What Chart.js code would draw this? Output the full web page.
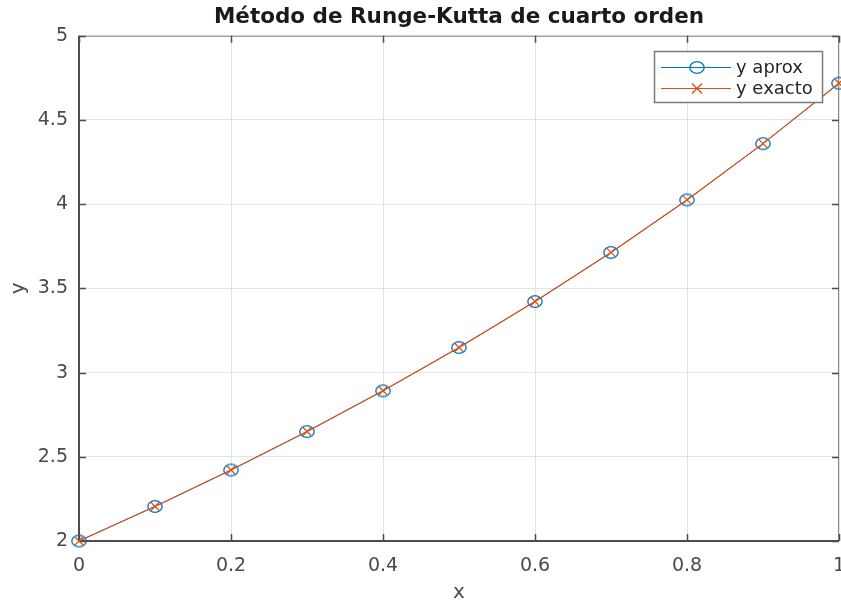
<!DOCTYPE html>
<html>
<head>
<meta charset="utf-8">
<script src="https://cdn.jsdelivr.net/npm/chart.js@4.4.1/dist/chart.umd.min.js"></script>
<style>
  html, body { margin: 0; padding: 0; background: #fff; }
  #wrap { width: 841px; height: 603px; }
</style>
</head>
<body>
<div id="wrap"><canvas id="rk4"></canvas></div>
<script>
// x nodes, h = 0.1
const xs = [0, 0.1, 0.2, 0.3, 0.4, 0.5, 0.6, 0.7, 0.8, 0.9, 1.0];
// Runge-Kutta 4 approximation
const yAprox = [2.0000, 2.2052, 2.4214, 2.6498, 2.8918, 3.1487, 3.4221, 3.7137, 4.0255, 4.3596, 4.7183];
// exact solution at the same nodes
const yExacto = [2.0000, 2.2052, 2.4214, 2.6499, 2.8918, 3.1487, 3.4221, 3.7138, 4.0255, 4.3596, 4.7183];

const xTicks = [0, 0.2, 0.4, 0.6, 0.8, 1];
const yTicks = [2, 2.5, 3, 3.5, 4, 4.5, 5];

const BLUE = '#0072BD';
const ORANGE = '#D95319';
const TEXT = '#4a4a4a';
const FONT = "'DejaVu Sans', 'Liberation Sans', Arial, sans-serif";

// matlab style 'o' markers come out slightly oval here
function ovalMarker(color) {
  const c = document.createElement('canvas');
  c.width = 18; c.height = 15;
  const g = c.getContext('2d');
  g.strokeStyle = color;
  g.lineWidth = 1.3;
  g.beginPath();
  g.ellipse(9, 7.5, 7.2, 5.8, 0, 0, Math.PI * 2);
  g.stroke();
  return c;
}
const circleMark = ovalMarker(BLUE);

function pts(ys) {
  return xs.map((x, i) => ({ x: x, y: ys[i] }));
}

// axes box with inward ticks, drawn before the lines
const axesBox = {
  id: 'axesBox',
  beforeDatasetsDraw(chart) {
    const { ctx, chartArea: a, scales } = chart;
    ctx.save();
    ctx.lineWidth = 1;
    ctx.strokeStyle = '#8c8c8c';
    ctx.beginPath();
    ctx.moveTo(a.left, a.top + 0.5); ctx.lineTo(a.right, a.top + 0.5);
    ctx.moveTo(a.right - 0.5, a.top); ctx.lineTo(a.right - 0.5, a.bottom);
    ctx.stroke();
    ctx.lineWidth = 2;
    ctx.strokeStyle = '#4d4d4d';
    ctx.beginPath();
    ctx.moveTo(a.left, a.top); ctx.lineTo(a.left, a.bottom);
    ctx.lineTo(a.right, a.bottom);
    ctx.stroke();
    ctx.lineWidth = 1.5;
    const len = 7;
    ctx.beginPath();
    xTicks.forEach(v => {
      const px = Math.round(scales.x.getPixelForValue(v)) + 0.5;
      ctx.moveTo(px, a.bottom); ctx.lineTo(px, a.bottom - len);
      ctx.moveTo(px, a.top); ctx.lineTo(px, a.top + len);
    });
    yTicks.forEach(v => {
      const py = Math.round(scales.y.getPixelForValue(v)) + 0.5;
      ctx.moveTo(a.left, py); ctx.lineTo(a.left + len, py);
      ctx.moveTo(a.right, py); ctx.lineTo(a.right - len, py);
    });
    ctx.stroke();
    ctx.restore();
  }
};

// boxed legend in the upper right corner of the axes
const boxLegend = {
  id: 'boxLegend',
  afterDraw(chart) {
    const { ctx } = chart;
    const x0 = 654, y0 = 51, w = 168, h = 51;
    ctx.save();
    ctx.fillStyle = '#fff';
    ctx.fillRect(x0, y0, w, h);
    ctx.strokeStyle = '#7a7a7a';
    ctx.lineWidth = 1.5;
    ctx.strokeRect(x0 + 0.5, y0 + 0.5, w, h);
    ctx.font = '18px ' + FONT;
    ctx.textBaseline = 'middle';
    const items = chart.data.datasets.slice().sort((p, q) => q.order - p.order);
    items.forEach((ds, i) => {
      const cy = y0 + 16 + i * 21;
      ctx.strokeStyle = ds.borderColor;
      ctx.lineWidth = 1;
      ctx.beginPath();
      ctx.moveTo(x0 + 7, cy + 0.5); ctx.lineTo(x0 + 77, cy + 0.5);
      ctx.stroke();
      const mx = x0 + 43;
      if (ds.pointStyle === 'crossRot') {
        ctx.lineWidth = 1.3;
        ctx.beginPath();
        ctx.moveTo(mx - 5, cy - 4.5); ctx.lineTo(mx + 5, cy + 5.5);
        ctx.moveTo(mx - 5, cy + 5.5); ctx.lineTo(mx + 5, cy - 4.5);
        ctx.stroke();
      } else {
        ctx.drawImage(circleMark, mx - 9, cy - 7);
      }
      ctx.fillStyle = '#262626';
      ctx.fillText(ds.label, x0 + 82, cy + 1);
    });
    ctx.restore();
  }
};

new Chart(document.getElementById('rk4'), {
  type: 'line',
  data: {
    datasets: [
      {
        label: 'y aprox',
        data: pts(yAprox),
        order: 2,
        borderColor: BLUE,
        borderWidth: 1,
        pointStyle: circleMark,
        pointRadius: 6,
        pointHoverRadius: 6,
        tension: 0,
        clip: false
      },
      {
        label: 'y exacto',
        data: pts(yExacto),
        order: 1,
        borderColor: ORANGE,
        borderWidth: 1.2,
        pointStyle: 'crossRot',
        pointRadius: 6,
        pointBorderWidth: 1.3,
        pointBorderColor: ORANGE,
        tension: 0,
        clip: false
      }
    ]
  },
  options: {
    responsive: true,
    maintainAspectRatio: false,
    animation: false,
    layout: { autoPadding: false, padding: { left: 0, right: 2, top: 0, bottom: 0 } },
    plugins: {
      legend: { display: false },
      tooltip: { enabled: false },
      title: {
        display: true,
        text: 'Método de Runge-Kutta de cuarto orden',
        fullSize: false,
        color: '#1a1a1a',
        font: { family: FONT, size: 21.5, weight: 'bold' },
        padding: { top: 5, bottom: 5 }
      }
    },
    scales: {
      x: {
        type: 'linear',
        min: 0,
        max: 1,
        afterBuildTicks: s => { s.ticks = xTicks.map(v => ({ value: v })); },
        afterFit: s => { s.height = 62; s.paddingLeft = 0; s.paddingRight = 0; },
        ticks: {
          color: TEXT,
          font: { family: FONT, size: 19 },
          padding: 14,
          maxRotation: 0,
          callback: v => String(v)
        },
        grid: { color: '#e3e3e3', lineWidth: 1, drawTicks: false },
        border: { display: false },
        title: {
          display: true,
          text: 'x',
          color: TEXT,
          font: { family: FONT, size: 20 },
          padding: { top: 2, bottom: -2 }
        }
      },
      y: {
        type: 'linear',
        min: 2,
        max: 5,
        afterBuildTicks: s => { s.ticks = yTicks.map(v => ({ value: v })); },
        afterFit: s => { s.width = 79; s.paddingTop = 0; s.paddingBottom = 0; },
        ticks: {
          color: TEXT,
          font: { family: FONT, size: 19 },
          padding: 11,
          callback: v => String(v)
        },
        grid: { color: '#e3e3e3', lineWidth: 1, drawTicks: false },
        border: { display: false },
        title: {
          display: true,
          text: 'y',
          color: TEXT,
          font: { family: FONT, size: 20 },
          padding: { top: 7, bottom: 4 }
        }
      }
    }
  },
  plugins: [axesBox, boxLegend]
});
</script>
</body>
</html>
